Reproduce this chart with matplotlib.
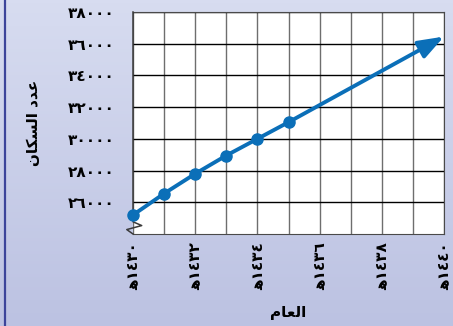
import numpy as np
import matplotlib.pyplot as plt
from matplotlib.lines import Line2D
from matplotlib.ticker import FixedLocator

plt.rcParams['font.family'] = ['DejaVu Sans']

# data
years = [1430, 1431, 1432, 1433, 1434, 1435]
population = [25200, 26550, 27800, 28950, 30000, 31050]
# projected value at the end of the arrow
proj_year = 1440
proj_population = 36450

xtick_years = [1430, 1432, 1434, 1436, 1438, 1440]
ytick_values = [26000, 28000, 30000, 32000, 34000, 36000, 38000]

arabic_digits = str.maketrans('0123456789', '٠١٢٣٤٥٦٧٨٩')

# presentation forms, in visual (left to right) order
ylabel_text = 'ﻥﺎﻜﺴﻟﺍ ﺩﺪﻋ'   # عدد السكان
xlabel_text = 'ﻡﺎﻌﻟﺍ'         # العام

fig = plt.figure(figsize=(4.53, 3.26), dpi=100)

# gradient background
bg = fig.add_axes([0, 0, 1, 1], zorder=-5)
top = np.array([215, 220, 240]) / 255
bot = np.array([188, 194, 226]) / 255
t = np.linspace(0, 1, 100)[:, None]
grad = (top * (1 - t) + bot * t)[:, None, :]
bg.imshow(grad, aspect='auto', extent=[0, 1, 0, 1])
bg.axis('off')
fig.add_artist(Line2D([4.5 / 453, 4.5 / 453], [0, 1], color='#3c449a', lw=1.6))

ax = fig.add_axes([133 / 453, 1 - 234 / 326, 311 / 453, 222 / 326])
ax.set_facecolor('white')
ax.set_xlim(1430, 1440)
ax.set_ylim(24000, 38000)

ax.set_xticks(xtick_years)
ax.set_xticklabels(['ﻫ' + str(y).translate(arabic_digits) for y in xtick_years],
                   rotation=90, fontsize=11, fontweight='bold')
ax.xaxis.set_minor_locator(FixedLocator(range(1430, 1441)))
ax.set_yticks(ytick_values)
ax.set_yticklabels([str(v).translate(arabic_digits) for v in ytick_values],
                   fontsize=11, fontweight='bold')
ax.tick_params(axis='both', which='both', length=0)
ax.tick_params(axis='y', pad=13)
ax.tick_params(axis='x', pad=6)

ax.grid(which='minor', axis='x', color='#6e6e6e', lw=1)
ax.grid(which='major', axis='x', color='#6e6e6e', lw=1)
ax.grid(which='major', axis='y', color='black', lw=1)
ax.set_axisbelow(True)

for s in ['top', 'right', 'bottom']:
    ax.spines[s].set_color('#4a4a4a')
ax.spines['left'].set_visible(False)
# left edge with the broken axis zigzag
ax.plot([0, 0, 0.028, -0.02, 0], [1, 0.055, 0.038, 0.02, 0], color='#3a3a3a',
        lw=1.1, transform=ax.transAxes, clip_on=False, zorder=3)

blue = '#0b6fb8'
ax.plot(years, population, color=blue, lw=2.8, marker='o', ms=8, zorder=4,
        clip_on=False)
ax.annotate('', xy=(proj_year, proj_population), xytext=(years[-1], population[-1]),
            arrowprops=dict(arrowstyle='-|>,head_length=1.1,head_width=0.4',
                            color=blue, lw=2.8, shrinkA=0, shrinkB=0,
                            mutation_scale=14),
            annotation_clip=False, zorder=4)

ax.set_xlabel(xlabel_text, fontsize=11, fontweight='bold')
ax.set_ylabel(ylabel_text, fontsize=11, fontweight='bold')
ax.yaxis.set_label_coords(-0.295, 0.5)
ax.xaxis.set_label_coords(0.5, -0.32)

plt.savefig('out.png', dpi=100)
